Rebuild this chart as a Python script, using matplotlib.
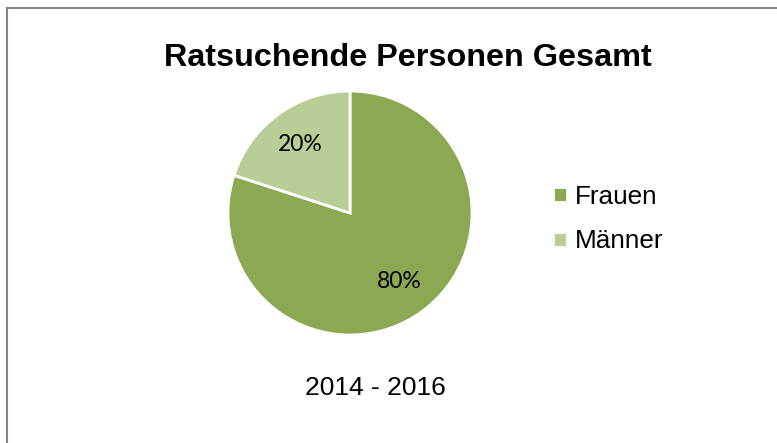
import matplotlib.pyplot as plt
from matplotlib.lines import Line2D

# Data
labels = ["Frauen", "Männer"]
shares = [80, 20]
colors = ["#8DA852", "#BACD96"]
title = "Ratsuchende Personen Gesamt"
subtitle = "2014 - 2016"

W, H = 777, 443
fig = plt.figure(figsize=(W / 100, H / 100), dpi=100)

# pie centre (350, 213) px, radius 122 px
cx, cy, r = 350, 213, 122
ax = fig.add_axes([(cx - r) / W, (H - cy - r) / H, 2 * r / W, 2 * r / H])
wedges, texts, autotexts = ax.pie(
    shares, colors=colors, startangle=90, counterclock=False,
    autopct="%d%%", pctdistance=0.69,
    wedgeprops=dict(edgecolor="white", linewidth=2),
    textprops=dict(fontsize=16.5, family="Lato", color="black"),
)
ax.set_xlim(-1, 1)
ax.set_ylim(-1, 1)
ax.set_aspect("equal")

fig.text(408 / W, 1 - 58 / H, title, ha="center", va="center",
         fontsize=23.3, fontweight="bold", family="Liberation Sans")
fig.text(375 / W, 1 - 388 / H, subtitle, ha="center", va="center",
         fontsize=19, family="Liberation Sans")

fig.legend(wedges, labels, loc="center left",
           bbox_to_anchor=(529 / W, 1 - 219 / H), frameon=False,
           handlelength=0.55, handleheight=0.5, handletextpad=0.3,
           labelspacing=0.8, prop=dict(family="Liberation Sans", size=18.8))

# frame (cropped box: only top and left edges visible)
fig.add_artist(Line2D([6.5 / W, 6.5 / W], [0, 1 - 8 / H], color="#868686", lw=1.5))
fig.add_artist(Line2D([6.5 / W, 1], [1 - 8 / H, 1 - 8 / H], color="#868686", lw=1.5))

fig.savefig("out.png", dpi=100)
